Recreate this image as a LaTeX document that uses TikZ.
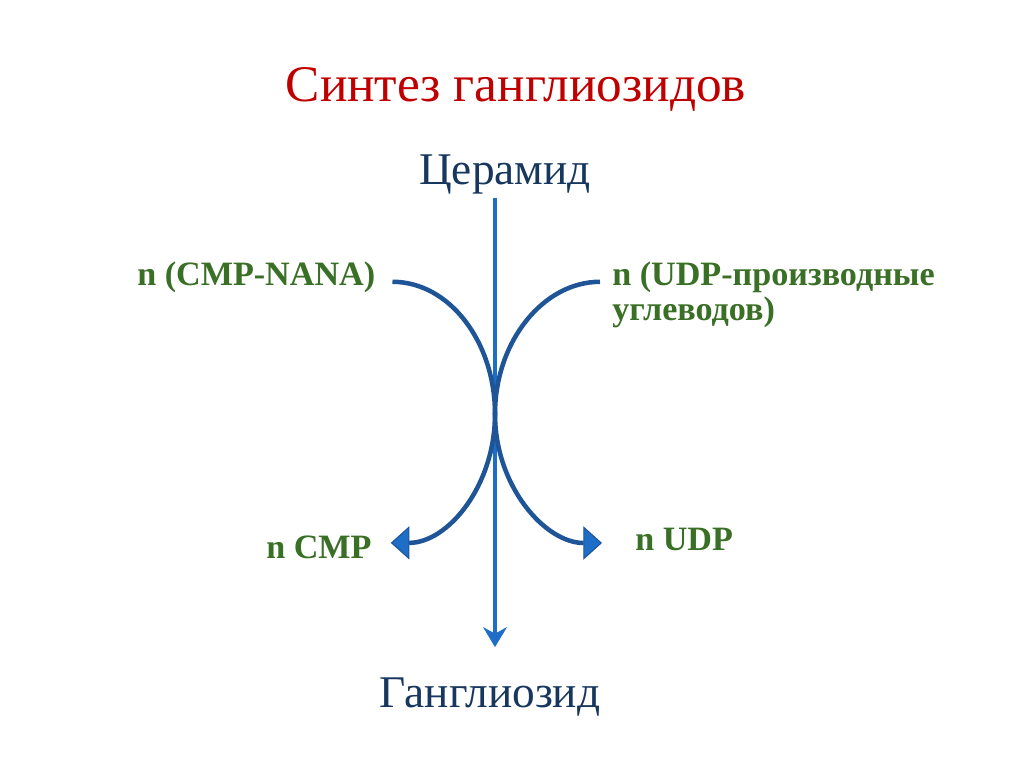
\documentclass[tikz,border=0pt]{standalone}
\usepackage{fontspec}
\setmainfont{Liberation Serif}
\usetikzlibrary{arrows.meta, calc}
\usepackage{xcolor}
\definecolor{titlered}{HTML}{C00000}
\definecolor{darkblue}{HTML}{17375E}
\definecolor{labelgreen}{HTML}{3A6F26}
\definecolor{axisblue}{HTML}{1E6EC8}
\definecolor{curveblue}{HTML}{1F5597}

\begin{document}
\begin{tikzpicture}[x=0.75pt,y=0.75pt,yscale=-1,xscale=1,
  bigtext/.style={inner sep=3pt, font=\fontsize{34}{41}\selectfont},
  greentext/.style={inner sep=0pt, text=labelgreen, font=\fontsize{25.6}{26.25}\selectfont\bfseries, align=left},
  axisarrow/.style={draw=axisblue, line width=3.4pt, -{Stealth[length=15pt,width=18pt,inset=5pt,line width=0.5pt]}},
  sidecurve/.style={draw=curveblue, line width=3.4pt, -{Triangle[length=14pt,width=25pt,line width=0.8pt,fill=axisblue]}}]
\useasboundingbox (0,0) rectangle (1024,767);
\fill[white] (0,0) rectangle (1024,767);

% Text Node
\draw (516,101) node [anchor=base, bigtext, text=titlered, font=\fontsize{38.5}{46}\selectfont] (title) {Синтез ганглиозидов};
% Text Node
\draw (505,184) node [anchor=base, bigtext, text=darkblue] (cer) {Церамид};
% Text Node
\draw (490,707) node [anchor=base, bigtext, text=darkblue] (gang) {Ганглиозид};
% Text Node
\draw (137,285) node [anchor=base west, greentext] (cmpnana) {n (CMP-NANA)};
% Text Node
\draw (612,320) node [anchor=base west, greentext] (udpder) {n (UDP-производные\\углеводов)};
% Text Node
\draw (266,558) node [anchor=base west, greentext] (cmp) {n CMP};
% Text Node
\draw (635,550) node [anchor=base west, greentext] (udp) {n UDP};

%where both curves touch the axis
\coordinate (touch) at (495,414);

%Straight Lines
\draw [axisarrow, shorten >=19.5pt] (cer.south -| touch) -- (gang.north -| touch);

%Curve Lines
\draw [sidecurve] ($(cmpnana.east)+(17,5)$) .. controls +(57,0) and +(0,-72) .. (touch) .. controls +(0,72) and +(57,0) .. ($(cmp.east)+(19,-4)$);
%Curve Lines
\draw [sidecurve] ($(udpder.west |- cmpnana.east)+(-12,5)$) .. controls +(-57,0) and +(0,-72) .. (touch) .. controls +(0,72) and +(-57,0) .. ($(udp.west)+(-33,4)$);

\end{tikzpicture}
\end{document}
